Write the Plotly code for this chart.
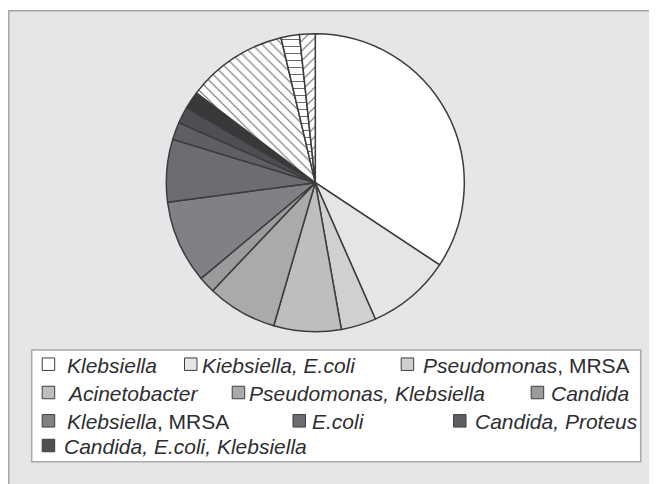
import plotly.graph_objects as go

# ---- data ----
slice_labels = [
    "Klebsiella", "Kiebsiella, E.coli", "Pseudomonas, MRSA", "Acinetobacter",
    "Pseudomonas, Klebsiella", "Candida", "Klebsiella, MRSA", "E.coli",
    "Candida, Proteus", "Candida, E.coli, Klebsiella",
    "Other A", "Other B", "Other C", "Other D",
]
slice_values = [34.3, 9.1, 3.8, 7.3, 7.6, 1.8, 9.0, 6.8, 1.9, 1.8, 1.9, 11.0, 2.0, 1.7]
slice_colors = ["#FFFFFF", "#E4E5E7", "#CFD0D2", "#BDBEC0", "#A9AAAC", "#9A9B9D",
                "#808184", "#6C6D70", "#5E5F62", "#4E4F52", "#38383A",
                "#E9EAEC", "#E9EAEC", "#D8D9DB"]
slice_patterns = ["", "", "", "", "", "", "", "", "", "", "", "\\", "-", "/"]

legend_text = [
    "<i>Klebsiella</i>", "<i>Kiebsiella, E.coli</i>", "<i>Pseudomonas</i>, MRSA",
    "<i>Acinetobacter</i>", "<i>Pseudomonas, Klebsiella</i>", "<i>Candida</i>",
    "<i>Klebsiella</i>, MRSA", "<i>E.coli</i>", "<i>Candida, Proteus</i>",
    "<i>Candida, E.coli, Klebsiella</i>",
]

# ---- layout helpers (page-pixel positions of the hand-built legend) ----
OFF = 8  # page body margin
W, H = 657 - OFF, 484 - OFF
legend_swatch_x = [42.2, 184.5, 401.2, 42.2, 232.2, 531.2, 42.2, 293, 453.5, 42.2]
legend_text_x = [64.5, 199.5, 421, 65, 246.5, 548.5, 65, 310, 472.5, 62]
legend_row_y = [364.2, 364.2, 364.2, 392.5, 392.5, 392.5, 420.8, 420.8, 420.8, 445.5]
sw = 12.5

def px(x):
    return (x - OFF) / W

def py(y):
    return 1 - (y - OFF) / H

cx, cy, r = 315.3, 182.7, 149

fig = go.Figure()
fig.add_trace(go.Pie(
    labels=slice_labels,
    values=slice_values,
    sort=False,
    direction="clockwise",
    rotation=0,
    textinfo="none",
    hoverinfo="skip",
    showlegend=False,
    marker=dict(
        colors=slice_colors,
        line=dict(color="#3C3C3E", width=1.5),
        pattern=dict(shape=slice_patterns, fgcolor="#6A6A6C", size=7, solidity=0.15),
    ),
    domain=dict(x=[px(cx - r), px(cx + r)], y=[py(cy + r), py(cy - r)]),
))

shapes = [
    # outer gray panel
    dict(type="rect", xref="paper", yref="paper",
         x0=px(8.8), x1=1.2, y0=-0.2, y1=py(10.7),
         fillcolor="#E5E6E8", line=dict(color="#A6A6A8", width=1.5), layer="below"),
    # legend box
    dict(type="rect", xref="paper", yref="paper",
         x0=px(31.7), x1=px(640.7), y0=py(461.7), y1=py(350),
         fillcolor="#FFFFFF", line=dict(color="#A8A8AA", width=1.5), layer="below"),
]
annotations = []
for i, txt in enumerate(legend_text):
    x0 = legend_swatch_x[i]
    yc = legend_row_y[i]
    shapes.append(dict(type="rect", xref="paper", yref="paper",
                       x0=px(x0), x1=px(x0 + sw), y0=py(yc + sw / 2), y1=py(yc - sw / 2),
                       fillcolor=slice_colors[i], line=dict(color="#3E3E40", width=1)))
    annotations.append(dict(xref="paper", yref="paper", x=px(legend_text_x[i]), y=py(yc + 1),
                            xanchor="left", yanchor="middle", showarrow=False, text=txt,
                            font=dict(family="Liberation Sans, Arial, sans-serif", size=21,
                                      color="#2E2E30")))

fig.update_layout(
    width=W, height=H,
    margin=dict(l=0, r=0, t=0, b=0),
    paper_bgcolor="#FFFFFF",
    plot_bgcolor="#FFFFFF",
    shapes=shapes,
    annotations=annotations,
    showlegend=False,
)

fig.write_html("out.html", config={"displayModeBar": False})
